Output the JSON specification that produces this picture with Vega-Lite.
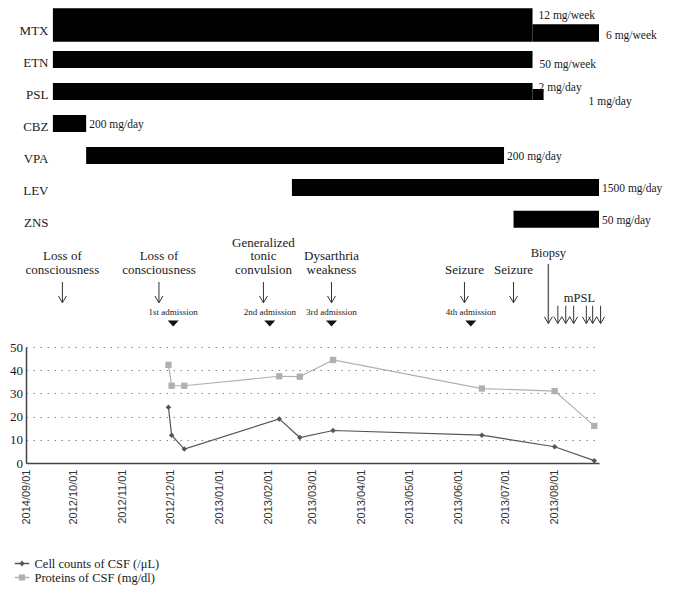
{
  "$schema": "https://vega.github.io/schema/vega-lite/v6.json",
  "padding": {"left": 9, "top": 5, "right": 5, "bottom": 5},
  "bounds": "flush",
  "spacing": 0,
  "config": {
    "view": {"stroke": null},
    "font": "Liberation Serif",
    "text": {"font": "Liberation Serif", "color": "#1a1a1a"}
  },
  "vconcat": [
    {
      "width": 573,
      "height": 237,
      "data": {"values": [
        {"drug": "MTX", "start": "2012-09-18", "end": "2013-07-18", "dose": "12 mg/week", "phase": "initial"},
        {"drug": "MTX", "start": "2013-07-18", "end": "2013-08-29", "dose": "6 mg/week", "phase": "reduced"},
        {"drug": "ETN", "start": "2012-09-18", "end": "2013-07-18", "dose": "50 mg/week", "phase": "initial"},
        {"drug": "PSL", "start": "2012-09-18", "end": "2013-07-18", "dose": "2 mg/day", "phase": "initial"},
        {"drug": "PSL", "start": "2013-07-18", "end": "2013-07-25", "dose": "1 mg/day", "phase": "reduced"},
        {"drug": "CBZ", "start": "2012-09-18", "end": "2012-10-09", "dose": "200 mg/day", "phase": "initial"},
        {"drug": "VPA", "start": "2012-10-09", "end": "2013-06-30", "dose": "200 mg/day", "phase": "initial"},
        {"drug": "LEV", "start": "2013-02-16", "end": "2013-08-29", "dose": "1500 mg/day", "phase": "initial"},
        {"drug": "ZNS", "start": "2013-07-06", "end": "2013-08-29", "dose": "50 mg/day", "phase": "initial"}
      ]},
      "encoding": {
        "y": {
          "field": "drug", "type": "nominal",
          "scale": {"domain": ["MTX", "ETN", "PSL", "CBZ", "VPA", "LEV", "ZNS"], "paddingInner": 0.468, "paddingOuter": 0.444},
          "axis": {"title": null, "domain": false, "ticks": false, "offset": -27, "labelPadding": 5, "labelFont": "Liberation Serif", "labelFontSize": 13, "labelColor": "#1a1a1a", "labelOffset": 3.5}
        }
      },
      "layer": [
        {
          "transform": [{"filter": "datum.phase === 'initial' && datum.drug !== 'MTX'"}],
          "mark": {"type": "bar", "color": "#000000"},
          "encoding": {
            "x": {"field": "start", "type": "temporal", "scale": {"domain": [{"year": 2012, "month": 9, "date": 1, "utc": true}, {"year": 2013, "month": 8, "date": 29, "utc": true}], "nice": false}, "axis": null},
            "x2": {"field": "end"}
          }
        },
        {
          "transform": [{"filter": "datum.phase === 'initial' && datum.drug === 'MTX'"}],
          "mark": {"type": "bar", "color": "#000000", "height": 33.4, "yOffset": -2.7},
          "encoding": {
            "x": {"field": "start", "type": "temporal", "axis": null},
            "x2": {"field": "end"}
          }
        },
        {
          "transform": [{"filter": "datum.phase === 'reduced' && datum.drug === 'MTX'"}],
          "mark": {"type": "bar", "color": "#000000", "height": 17.4, "yOffset": 5.3},
          "encoding": {
            "x": {"field": "start", "type": "temporal", "axis": null},
            "x2": {"field": "end"}
          }
        },
        {
          "transform": [{"filter": "datum.phase === 'reduced' && datum.drug === 'PSL'"}],
          "mark": {"type": "bar", "color": "#000000", "height": 11, "yOffset": 3},
          "encoding": {
            "x": {"field": "start", "type": "temporal", "axis": null},
            "x2": {"field": "end"}
          }
        },
        {
          "transform": [{"filter": "indexof(['CBZ','VPA','LEV','ZNS'], datum.drug) >= 0"}],
          "mark": {"type": "text", "align": "left", "baseline": "middle", "dx": 3, "dy": 1.5, "fontSize": 11.5},
          "encoding": {
            "x": {"field": "end", "type": "temporal", "axis": null},
            "text": {"field": "dose"}
          }
        },
        {
          "transform": [{"filter": "datum.drug === 'MTX' && datum.phase === 'initial'"}],
          "mark": {"type": "text", "align": "left", "baseline": "middle", "dx": 6, "dy": -12, "fontSize": 11.5},
          "encoding": {
            "x": {"field": "end", "type": "temporal", "axis": null},
            "text": {"field": "dose"}
          }
        },
        {
          "transform": [{"filter": "datum.drug === 'MTX' && datum.phase === 'reduced'"}],
          "mark": {"type": "text", "align": "left", "baseline": "middle", "dx": 7, "dy": 8, "fontSize": 11.5},
          "encoding": {
            "x": {"field": "end", "type": "temporal", "axis": null},
            "text": {"field": "dose"}
          }
        },
        {
          "transform": [{"filter": "datum.drug === 'ETN'"}],
          "mark": {"type": "text", "align": "left", "baseline": "middle", "dx": 7, "dy": 5.5, "fontSize": 11.5},
          "encoding": {
            "x": {"field": "end", "type": "temporal", "axis": null},
            "text": {"field": "dose"}
          }
        },
        {
          "transform": [{"filter": "datum.drug === 'PSL' && datum.phase === 'initial'"}],
          "mark": {"type": "text", "align": "left", "baseline": "middle", "dx": 6, "dy": -4, "fontSize": 11.5},
          "encoding": {
            "x": {"field": "end", "type": "temporal", "axis": null},
            "text": {"field": "dose"}
          }
        },
        {
          "transform": [{"filter": "datum.drug === 'PSL' && datum.phase === 'reduced'"}],
          "mark": {"type": "text", "align": "left", "baseline": "middle", "dx": 45, "dy": 10, "fontSize": 11.5},
          "encoding": {
            "x": {"field": "end", "type": "temporal", "axis": null},
            "text": {"field": "dose"}
          }
        }
      ]
    },
    {
      "width": 573,
      "height": 105,
      "data": {
        "values": [
          {"date": "2012-09-24", "kind": "symptom", "label": "Loss of\nconsciousness"},
          {"date": "2012-11-24", "kind": "symptom", "label": "Loss of\nconsciousness"},
          {"date": "2013-01-29", "kind": "symptom", "label": "Generalized\ntonic\nconvulsion"},
          {"date": "2013-03-13", "kind": "symptom", "label": "Dysarthria\nweakness"},
          {"date": "2013-06-05", "kind": "symptom", "label": "Seizure"},
          {"date": "2013-07-06", "kind": "symptom", "label": "Seizure"},
          {"date": "2012-12-03", "kind": "admission", "label": "1st admission"},
          {"date": "2013-02-02", "kind": "admission", "label": "2nd admission"},
          {"date": "2013-03-13", "kind": "admission", "label": "3rd admission"},
          {"date": "2013-06-09", "kind": "admission", "label": "4th admission"},
          {"date": "2013-07-28", "kind": "biopsy", "label": "Biopsy"},
          {"date": "2013-08-03", "kind": "mPSL", "label": "mPSL"},
          {"date": "2013-08-08", "kind": "mPSL", "label": "mPSL"},
          {"date": "2013-08-13", "kind": "mPSL", "label": "mPSL"},
          {"date": "2013-08-21", "kind": "mPSL", "label": "mPSL"},
          {"date": "2013-08-25", "kind": "mPSL", "label": "mPSL"},
          {"date": "2013-08-30", "kind": "mPSL", "label": "mPSL"}
        ],
        "format": {"parse": {"date": "date"}}
      },
      "layer": [
        {
          "transform": [{"filter": "datum.kind === 'symptom' && split(datum.label, '\\n').length === 1"}],
          "mark": {"type": "text", "align": "center", "baseline": "alphabetic", "dy": -8, "fontSize": 13},
          "encoding": {
            "x": {"field": "date", "type": "temporal", "scale": {"domain": [{"year": 2012, "month": 9, "date": 1, "utc": true}, {"year": 2013, "month": 8, "date": 29, "utc": true}], "nice": false}, "axis": null},
            "y": {"datum": "label", "type": "ordinal", "scale": {"type": "point", "domain": ["label", "arrow", "marker"], "range": [40, 81.5], "padding": 0}, "axis": null},
            "text": {"field": "label"}
          }
        },
        {
          "transform": [{"filter": "datum.kind === 'symptom' && split(datum.label, '\\n').length === 2"}],
          "mark": {"type": "text", "align": "center", "baseline": "alphabetic", "dy": -21.8, "fontSize": 13, "lineBreak": "\n", "lineHeight": 13.8},
          "encoding": {
            "x": {"field": "date", "type": "temporal", "axis": null},
            "y": {"datum": "label", "type": "ordinal", "scale": {"type": "point", "domain": ["label", "arrow", "marker"], "range": [40, 81.5], "padding": 0}, "axis": null},
            "text": {"field": "label"}
          }
        },
        {
          "transform": [{"filter": "datum.kind === 'symptom' && split(datum.label, '\\n').length === 3"}],
          "mark": {"type": "text", "align": "center", "baseline": "alphabetic", "dy": -35.2, "fontSize": 13, "lineBreak": "\n", "lineHeight": 13.6},
          "encoding": {
            "x": {"field": "date", "type": "temporal", "axis": null},
            "y": {"datum": "label", "type": "ordinal", "scale": {"type": "point", "domain": ["label", "arrow", "marker"], "range": [40, 81.5], "padding": 0}, "axis": null},
            "text": {"field": "label"}
          }
        },
        {
          "transform": [{"filter": "datum.kind === 'symptom'"}],
          "mark": {"type": "rule", "color": "#333333", "strokeWidth": 1},
          "encoding": {
            "x": {"field": "date", "type": "temporal", "axis": null},
            "y": {"datum": "label", "type": "ordinal", "scale": {"type": "point", "domain": ["label", "arrow", "marker"], "range": [40, 81.5], "padding": 0}, "axis": null},
            "y2": {"datum": "arrow"}
          }
        },
        {
          "transform": [{"filter": "datum.kind === 'symptom'"}],
          "mark": {"type": "point", "shape": "M-1,-1.7L0,0L1,-1.7", "size": 64, "filled": false, "color": "#333333", "strokeWidth": 1, "opacity": 1},
          "encoding": {
            "x": {"field": "date", "type": "temporal", "axis": null},
            "y": {"datum": "arrow", "type": "ordinal", "scale": {"type": "point", "domain": ["label", "arrow", "marker"], "range": [40, 81.5], "padding": 0}, "axis": null}
          }
        },
        {
          "transform": [{"filter": "datum.kind === 'admission'"}],
          "mark": {"type": "text", "align": "center", "baseline": "alphabetic", "dy": -9, "fontSize": 9},
          "encoding": {
            "x": {"field": "date", "type": "temporal", "axis": null},
            "y": {"datum": "marker", "type": "ordinal", "scale": {"type": "point", "domain": ["label", "arrow", "marker"], "range": [40, 81.5], "padding": 0}, "axis": null},
            "text": {"field": "label"}
          }
        },
        {
          "transform": [{"filter": "datum.kind === 'admission'"}],
          "mark": {"type": "point", "shape": "M-1,-0.55L1,-0.55L0,0.55Z", "size": 121, "filled": true, "color": "#111111", "opacity": 1},
          "encoding": {
            "x": {"field": "date", "type": "temporal", "axis": null},
            "y": {"datum": "marker", "type": "ordinal", "scale": {"type": "point", "domain": ["label", "arrow", "marker"], "range": [40, 81.5], "padding": 0}, "axis": null}
          }
        },
        {
          "transform": [{"filter": "datum.kind === 'biopsy'"}],
          "mark": {"type": "text", "align": "center", "baseline": "alphabetic", "dy": -25, "fontSize": 12.5},
          "encoding": {
            "x": {"field": "date", "type": "temporal", "axis": null},
            "y": {"datum": "label", "type": "ordinal", "scale": {"type": "point", "domain": ["label", "arrow", "marker"], "range": [40, 81.5], "padding": 0}, "axis": null},
            "text": {"field": "label"}
          }
        },
        {
          "transform": [{"filter": "datum.kind === 'biopsy'"}],
          "mark": {"type": "rule", "color": "#666666", "strokeWidth": 1.5, "yOffset": -18},
          "encoding": {
            "x": {"field": "date", "type": "temporal", "axis": null},
            "y": {"datum": "label", "type": "ordinal", "scale": {"type": "point", "domain": ["label", "arrow", "marker"], "range": [40, 81.5], "padding": 0}, "axis": null},
            "y2": {"datum": "marker"}
          }
        },
        {
          "transform": [{"filter": "datum.kind === 'mPSL'"}],
          "mark": {"type": "rule", "color": "#333333", "strokeWidth": 1, "yOffset": 3},
          "encoding": {
            "x": {"field": "date", "type": "temporal", "axis": null},
            "y": {"datum": "arrow", "type": "ordinal", "scale": {"type": "point", "domain": ["label", "arrow", "marker"], "range": [40, 81.5], "padding": 0}, "axis": null},
            "y2": {"datum": "marker"}
          }
        },
        {
          "transform": [{"filter": "datum.kind === 'mPSL' || datum.kind === 'biopsy'"}],
          "mark": {"type": "point", "shape": "M-1,-1.7L0,0L1,-1.7", "size": 64, "filled": false, "color": "#333333", "strokeWidth": 1, "opacity": 1},
          "encoding": {
            "x": {"field": "date", "type": "temporal", "axis": null},
            "y": {"datum": "marker", "type": "ordinal", "scale": {"type": "point", "domain": ["label", "arrow", "marker"], "range": [40, 81.5], "padding": 0}, "axis": null}
          }
        },
        {
          "transform": [
            {"filter": "datum.kind === 'mPSL'"},
            {"aggregate": [{"op": "mean", "field": "date", "as": "mid"}], "groupby": ["label"]}
          ],
          "mark": {"type": "text", "align": "center", "baseline": "alphabetic", "dy": -1, "fontSize": 12.5},
          "encoding": {
            "x": {"field": "mid", "type": "temporal", "axis": null},
            "y": {"datum": "arrow", "type": "ordinal", "scale": {"type": "point", "domain": ["label", "arrow", "marker"], "range": [40, 81.5], "padding": 0}, "axis": null},
            "text": {"field": "label"}
          }
        }
      ]
    },
    {
      "width": 573,
      "height": 116,
      "data": {"values": [
        {"date": "2012-11-30", "series": "Cell counts of CSF (/μL)", "value": 24},
        {"date": "2012-12-02", "series": "Cell counts of CSF (/μL)", "value": 12},
        {"date": "2012-12-10", "series": "Cell counts of CSF (/μL)", "value": 6},
        {"date": "2013-02-08", "series": "Cell counts of CSF (/μL)", "value": 19},
        {"date": "2013-02-21", "series": "Cell counts of CSF (/μL)", "value": 11},
        {"date": "2013-03-14", "series": "Cell counts of CSF (/μL)", "value": 14},
        {"date": "2013-06-16", "series": "Cell counts of CSF (/μL)", "value": 12},
        {"date": "2013-08-01", "series": "Cell counts of CSF (/μL)", "value": 7},
        {"date": "2013-08-26", "series": "Cell counts of CSF (/μL)", "value": 1},
        {"date": "2012-11-30", "series": "Proteins of CSF (mg/dl)", "value": 42.3},
        {"date": "2012-12-02", "series": "Proteins of CSF (mg/dl)", "value": 33.3},
        {"date": "2012-12-10", "series": "Proteins of CSF (mg/dl)", "value": 33.3},
        {"date": "2013-02-08", "series": "Proteins of CSF (mg/dl)", "value": 37.4},
        {"date": "2013-02-21", "series": "Proteins of CSF (mg/dl)", "value": 37.2},
        {"date": "2013-03-14", "series": "Proteins of CSF (mg/dl)", "value": 44.4},
        {"date": "2013-06-16", "series": "Proteins of CSF (mg/dl)", "value": 32.1},
        {"date": "2013-08-01", "series": "Proteins of CSF (mg/dl)", "value": 31},
        {"date": "2013-08-26", "series": "Proteins of CSF (mg/dl)", "value": 16}
      ]},
      "encoding": {
        "x": {
          "field": "date", "type": "temporal",
          "scale": {"domain": [{"year": 2012, "month": 9, "date": 1, "utc": true}, {"year": 2013, "month": 8, "date": 29, "utc": true}], "nice": false},
          "axis": {
            "title": null,
            "values": [
              {"year": 2012, "month": 9, "date": 1, "utc": true},
              {"year": 2012, "month": 10, "date": 1, "utc": true},
              {"year": 2012, "month": 11, "date": 1, "utc": true},
              {"year": 2012, "month": 12, "date": 1, "utc": true},
              {"year": 2013, "month": 1, "date": 1, "utc": true},
              {"year": 2013, "month": 2, "date": 1, "utc": true},
              {"year": 2013, "month": 3, "date": 1, "utc": true},
              {"year": 2013, "month": 4, "date": 1, "utc": true},
              {"year": 2013, "month": 5, "date": 1, "utc": true},
              {"year": 2013, "month": 6, "date": 1, "utc": true},
              {"year": 2013, "month": 7, "date": 1, "utc": true},
              {"year": 2013, "month": 8, "date": 1, "utc": true}
            ],
            "labelExpr": "datum.index === 0 ? '2014/09/01' : utcFormat(datum.value, '%Y/%m/%d')",
            "labelAngle": -90,
            "labelFont": "Liberation Sans",
            "labelFontSize": 11,
            "labelColor": "#333333",
            "labelPadding": 6,
            "labelOverlap": false,
            "labelFlush": false,
            "labelBound": false,
            "ticks": false,
            "grid": false,
            "domainColor": "#444444",
            "domainWidth": 1.5
          }
        },
        "y": {
          "field": "value", "type": "quantitative",
          "scale": {"domain": [0, 50], "nice": false},
          "axis": {
            "title": null,
            "values": [0, 10, 20, 30, 40, 50],
            "ticks": false,
            "labelPadding": 3.5,
            "labelFont": "Liberation Serif",
            "labelFontSize": 13,
            "labelColor": "#1a1a1a",
            "domainColor": "#444444",
            "domainWidth": 1.5,
            "grid": true,
            "gridColor": "#888888",
            "gridDash": [1.5, 5.5],
            "gridWidth": 1
          }
        },
        "color": {
          "field": "series", "type": "nominal",
          "scale": {"domain": ["Cell counts of CSF (/μL)", "Proteins of CSF (mg/dl)"], "range": ["#555555", "#b0b0b0"]},
          "legend": {
            "title": null,
            "orient": "none",
            "legendX": -11.5,
            "legendY": 551,
            "direction": "vertical",
            "labelFont": "Liberation Serif",
            "labelFontSize": 12.5,
            "labelColor": "#1a1a1a",
            "labelOffset": 5,
            "symbolSize": 196,
            "symbolType": "M-1,-0.07L1,-0.07L1,0.07L-1,0.07ZM0,-0.4L0.3,0L0,0.4L-0.3,0Z",
            "rowPadding": 0,
            "encode": {
              "symbols": {
                "update": {
                  "shape": {"signal": "datum.value === 'Cell counts of CSF (/μL)' ? 'M-1,-0.07L1,-0.07L1,0.07L-1,0.07ZM0,-0.4L0.3,0L0,0.4L-0.3,0Z' : 'M-1,-0.07L1,-0.07L1,0.07L-1,0.07ZM-0.4,-0.4L0.4,-0.4L0.4,0.4L-0.4,0.4Z'"},
                  "fill": {"signal": "datum.value === 'Cell counts of CSF (/μL)' ? '#555555' : '#b0b0b0'"},
                  "stroke": {"signal": "datum.value === 'Cell counts of CSF (/μL)' ? '#555555' : '#b0b0b0'"},
                  "strokeOpacity": {"value": 1},
                  "fillOpacity": {"value": 1},
                  "strokeWidth": {"value": 0.5},
                  "opacity": {"value": 1}
                }
              }
            }
          }
        }
      },
      "layer": [
        {"mark": {"type": "line", "strokeWidth": 1.2}},
        {
          "transform": [{"filter": "datum.series === 'Cell counts of CSF (/μL)'"}],
          "mark": {"type": "point", "filled": true, "opacity": 1, "shape": "diamond", "size": 30}
        },
        {
          "transform": [{"filter": "datum.series === 'Proteins of CSF (mg/dl)'"}],
          "mark": {"type": "point", "filled": true, "opacity": 1, "shape": "square", "size": 40}
        }
      ]
    }
  ]
}
